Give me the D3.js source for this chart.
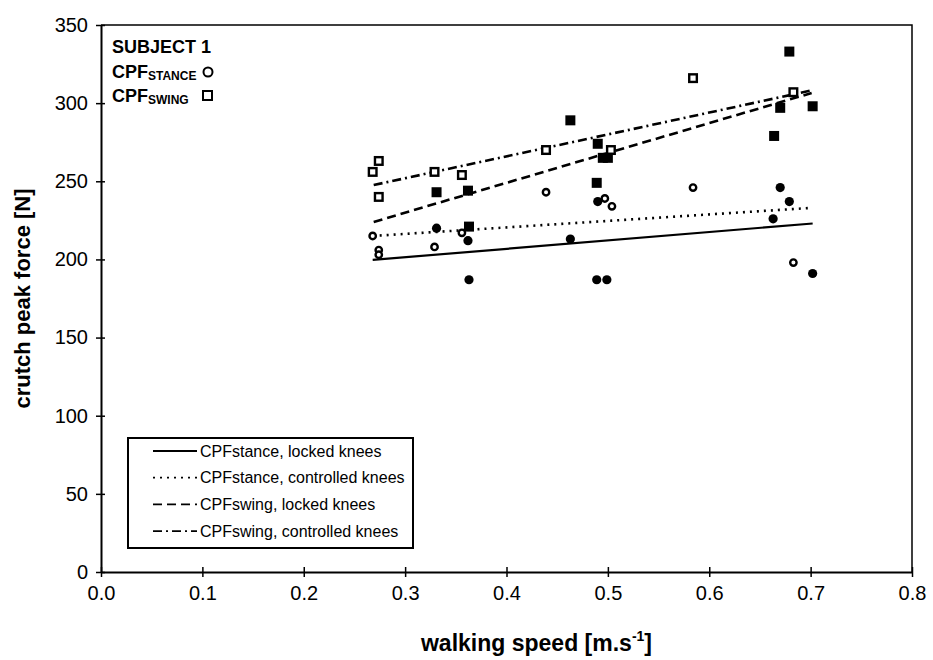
<!DOCTYPE html>
<html>
<head>
<meta charset="utf-8">
<style>
  body { margin: 0; background: #fff; }
  svg text { font-family: Arial, "Liberation Sans", sans-serif; fill: #000; }
  .axis path, .axis line { stroke: #000; }
</style>
</head>
<body>
<svg width="933" height="660"></svg>
<script src="https://cdnjs.cloudflare.com/ajax/libs/d3/7.8.5/d3.min.js"></script>
<script>

// data: [walking speed, crutch peak force]
var stanceOpen = [[0.268, 215], [0.274, 206], [0.274, 203], [0.329, 208], [0.356, 217],
                  [0.439, 243], [0.497, 239], [0.504, 234], [0.584, 246], [0.683, 198]];
var stanceFilled = [[0.331, 220], [0.362, 212], [0.363, 187], [0.463, 213], [0.490, 237],
                    [0.489, 187], [0.499, 187], [0.670, 246], [0.679, 237], [0.663, 226], [0.702, 191]];
var swingOpen = [[0.268, 256], [0.274, 263], [0.274, 240], [0.329, 256], [0.356, 254],
                 [0.439, 270], [0.503, 270], [0.584, 316], [0.683, 307]];
var swingFilled = [[0.331, 243], [0.362, 244], [0.363, 221], [0.463, 289], [0.490, 274],
                   [0.489, 249], [0.495, 265], [0.500, 265], [0.664, 279], [0.670, 297],
                   [0.679, 333], [0.702, 298]];

// regression lines (end points)
var fitLines = [
  {name: "CPFstance, locked knees",     dash: null,      pts: [[0.268, 199.7], [0.702, 223]]},
  {name: "CPFstance, controlled knees", dash: "2,5",     pts: [[0.268, 215], [0.701, 233]]},
  {name: "CPFswing, locked knees",      dash: "9,5",     pts: [[0.269, 224], [0.701, 306.5]]},
  {name: "CPFswing, controlled knees",  dash: "9,4,2,4", pts: [[0.269, 247.6], [0.700, 308]]}
];

var xTicks = [0, 0.1, 0.2, 0.3, 0.4, 0.5, 0.6, 0.7, 0.8];
var yTicks = [0, 50, 100, 150, 200, 250, 300, 350];

var svg = d3.select("svg");

var x = d3.scaleLinear().domain([0, 0.8]).range([101, 912]);
var y = d3.scaleLinear().domain([0, 350]).range([572, 25]);

// frame (top and right)
svg.append("path")
    .attr("d", "M" + x(0) + "," + y(350) + "H" + x(0.8) + "V" + y(0))
    .attr("fill", "none")
    .attr("stroke", "#000")
    .attr("stroke-width", 1.5);

var xAxis = svg.append("g")
    .attr("class", "axis")
    .attr("transform", "translate(0," + y(0) + ")")
    .call(d3.axisBottom(x).tickValues(xTicks).tickFormat(d3.format(".1f")).tickSizeOuter(0));
xAxis.select(".domain").attr("stroke-width", 2);
xAxis.selectAll(".tick line").attr("y1", -5).attr("y2", 5).attr("stroke-width", 1.5);
xAxis.selectAll(".tick text").attr("y", 14).attr("font-size", 20).attr("font-family", null);

var yAxis = svg.append("g")
    .attr("class", "axis")
    .attr("transform", "translate(" + x(0) + ",0)")
    .call(d3.axisLeft(y).tickValues(yTicks).tickSizeOuter(0));
yAxis.select(".domain").attr("stroke-width", 2);
yAxis.selectAll(".tick line").attr("x1", -5).attr("x2", 4).attr("stroke-width", 1.5);
yAxis.selectAll(".tick text").attr("x", -13).attr("font-size", 20).attr("font-family", null);

// fit lines
var line = d3.line().x(function(d) { return x(d[0]); }).y(function(d) { return y(d[1]); });
svg.selectAll(".fit")
    .data(fitLines)
    .enter().append("path")
      .attr("class", "fit")
      .attr("d", function(d) { return line(d.pts); })
      .attr("fill", "none")
      .attr("stroke", "#000")
      .attr("stroke-width", function(d) { return d.dash ? 2.6 : 2.2; })
      .attr("stroke-dasharray", function(d) { return d.dash; });

// markers
svg.selectAll(".so").data(stanceOpen).enter().append("circle")
    .attr("cx", function(d) { return x(d[0]); })
    .attr("cy", function(d) { return y(d[1]); })
    .attr("r", 3.2).attr("fill", "#fff").attr("stroke", "#000").attr("stroke-width", 2.4);
svg.selectAll(".sf").data(stanceFilled).enter().append("circle")
    .attr("cx", function(d) { return x(d[0]); })
    .attr("cy", function(d) { return y(d[1]); })
    .attr("r", 4.6).attr("fill", "#000");
svg.selectAll(".wo").data(swingOpen).enter().append("rect")
    .attr("x", function(d) { return x(d[0]) - 3.8; })
    .attr("y", function(d) { return y(d[1]) - 3.8; })
    .attr("width", 7.6).attr("height", 7.6)
    .attr("fill", "#fff").attr("stroke", "#000").attr("stroke-width", 2.4);
svg.selectAll(".wf").data(swingFilled).enter().append("rect")
    .attr("x", function(d) { return x(d[0]) - 5; })
    .attr("y", function(d) { return y(d[1]) - 5; })
    .attr("width", 10).attr("height", 10)
    .attr("fill", "#000");

// subject label
svg.append("text").attr("x", 112).attr("y", 53)
    .attr("font-size", 18).attr("font-weight", "bold").text("SUBJECT 1");
var t1 = svg.append("text").attr("x", 112).attr("y", 78).attr("font-size", 18).attr("font-weight", "bold");
t1.append("tspan").text("CPF");
t1.append("tspan").attr("font-size", 12).attr("dy", 2).text("STANCE");
svg.append("circle").attr("cx", 208).attr("cy", 72).attr("r", 4.5)
    .attr("fill", "none").attr("stroke", "#000").attr("stroke-width", 2);
var t2 = svg.append("text").attr("x", 112).attr("y", 102).attr("font-size", 18).attr("font-weight", "bold");
t2.append("tspan").text("CPF");
t2.append("tspan").attr("font-size", 12).attr("dy", 2).text("SWING");
svg.append("rect").attr("x", 203).attr("y", 91).attr("width", 9).attr("height", 9)
    .attr("fill", "none").attr("stroke", "#000").attr("stroke-width", 2);

// legend box
var lg = svg.append("g").attr("transform", "translate(128,438)");
lg.append("rect").attr("width", 285).attr("height", 110)
    .attr("fill", "#fff").attr("stroke", "#000").attr("stroke-width", 2);
var item = lg.selectAll(".item").data(fitLines).enter().append("g")
    .attr("transform", function(d, i) { return "translate(0," + (13 + i * 26.7) + ")"; });
item.append("line").attr("x1", 25).attr("x2", 69)
    .attr("stroke", "#000").attr("stroke-width", 1.8)
    .attr("stroke-dasharray", function(d) { return d.dash; });
item.append("text").attr("x", 72).attr("dy", "0.35em")
    .attr("font-size", 16).text(function(d) { return d.name; });

// axis titles
svg.append("text")
    .attr("transform", "translate(30," + ((y(0) + y(350)) / 2) + ") rotate(-90)")
    .attr("text-anchor", "middle")
    .attr("font-size", 22).attr("font-weight", "bold")
    .text("crutch peak force [N]");
var xt = svg.append("text")
    .attr("x", (x(0) + x(0.8)) / 2 + 30).attr("y", 651)
    .attr("text-anchor", "middle")
    .attr("font-size", 23).attr("font-weight", "bold");
xt.append("tspan").text("walking speed [m.s");
xt.append("tspan").attr("font-size", 14).attr("dy", -10).text("-1");
xt.append("tspan").attr("dy", 10).text("]");

</script>
</body>
</html>
